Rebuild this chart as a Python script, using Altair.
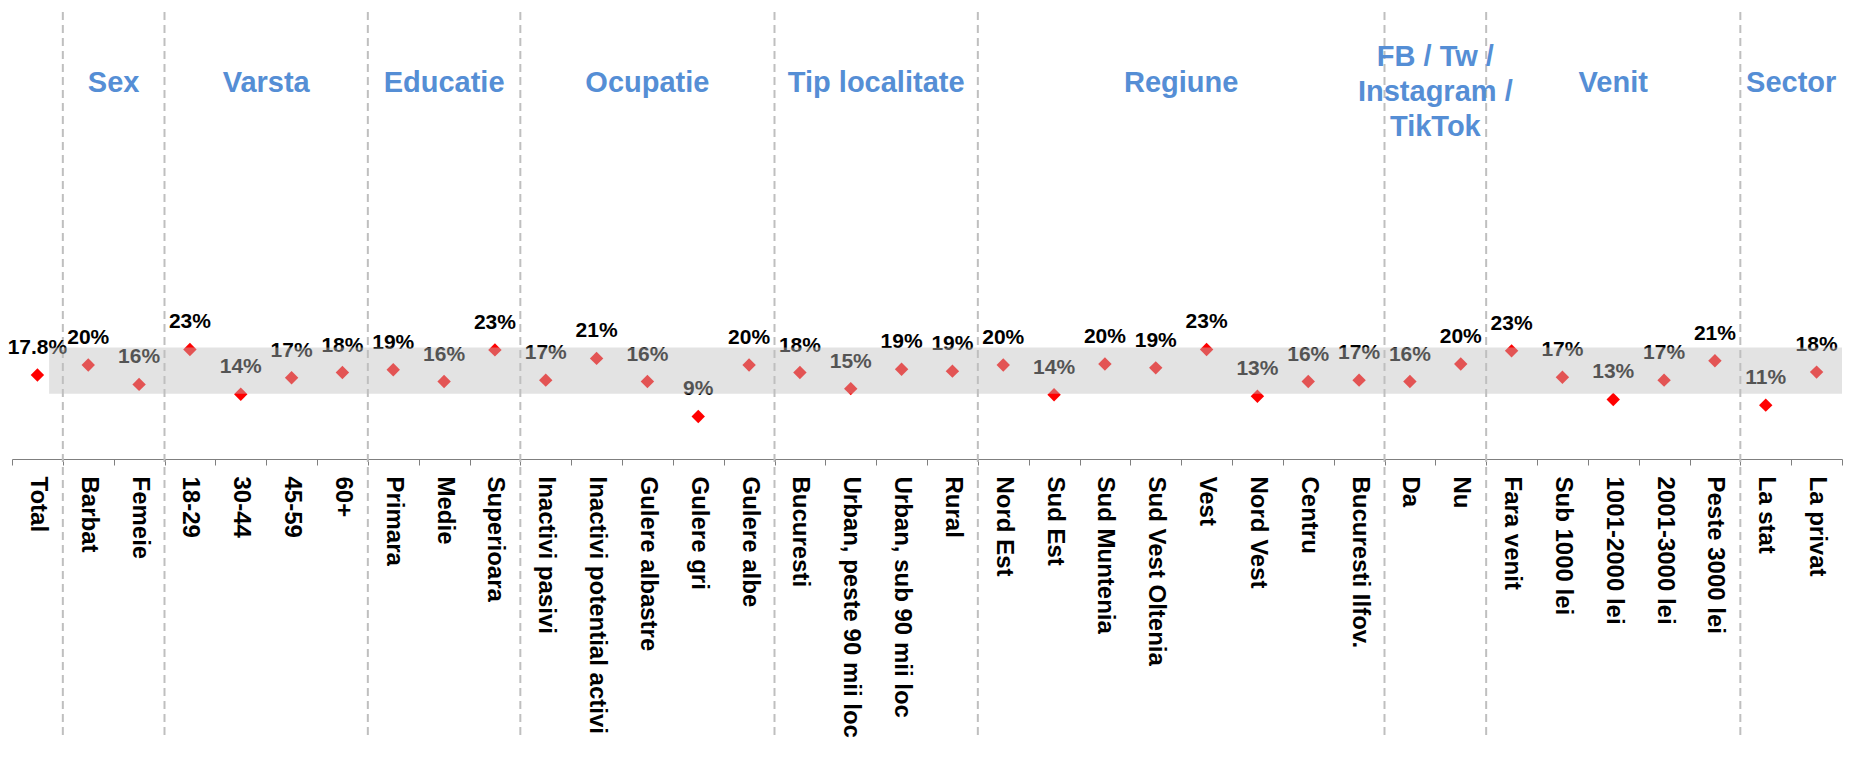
import json
import altair as alt
import pandas as pd

# ---------------- data ----------------
categories = ["Total", "Barbat", "Femeie", "18-29", "30-44", "45-59", "60+",
              "Primara", "Medie", "Superioara",
              "Inactivi pasivi", "Inactivi potential activi", "Gulere albastre", "Gulere gri", "Gulere albe",
              "Bucuresti", "Urban, peste 90 mii loc", "Urban, sub 90 mii loc", "Rural",
              "Nord Est", "Sud Est", "Sud Muntenia", "Sud Vest Oltenia", "Vest", "Nord Vest", "Centru",
              "Bucuresti Ilfov.",
              "Da", "Nu",
              "Fara venit", "Sub 1000 lei", "1001-2000 lei", "2001-3000 lei", "Peste 3000 lei",
              "La stat", "La privat"]
values = [17.8, 19.9, 15.8, 23.2, 13.7, 17.2, 18.3, 18.9, 16.4, 23.1, 16.7, 21.3,
          16.4, 9.0, 19.9, 18.3, 14.9, 19.0, 18.6, 19.9, 13.6, 20.1, 19.3, 23.2,
          13.3, 16.4, 16.7, 16.4, 20.1, 22.9, 17.3, 12.6, 16.7, 20.8, 11.4, 18.4]
groups = ["Sex", "Varsta", "Educatie", "Ocupatie", "Tip localitate", "Regiune",
          "FB / Tw /\nInstagram /\nTikTok", "Venit", "Sector"]
group_sizes = [2, 4, 3, 5, 4, 8, 2, 5, 2]
band_low, band_high = 13.8, 23.6   # confidence band around the total
band_start = 0.73                   # band starts just right of "Total"

# ---------------- tables ----------------
n = len(categories)
pts = pd.DataFrame({
    "x": [i + 0.5 for i in range(n)],
    "cat": categories,
    "v": values,
    "label": [f"{v:.1f}%" if i == 0 else f"{v:.0f}%" for i, v in enumerate(values)],
})

starts, pos = [], 1
for s in group_sizes:
    starts.append(pos)
    pos += s
seps = pd.DataFrame({"x": starts})
titles = pd.DataFrame({
    "x": [st + s / 2 for st, s in zip(starts, group_sizes)],
    "name": groups,
    "multi": ["\n" in g for g in groups],
})
band = pd.DataFrame({"x": [band_start], "x2": [n], "lo": [band_low], "hi": [band_high]})

# ---------------- styling ----------------
FONT = "Liberation Sans"
W, H = 1830, 451
YMAX = 95.5

tick_vals = [i / 2 for i in range(2 * n + 1)]
expr = ("datum.value % 1 == 0 ? '' : " + json.dumps(categories) + "[floor(datum.value)]")
x_axis = alt.Axis(
    values=tick_vals, labelExpr=expr, labelAngle=90, labelAlign="left", labelBaseline="middle",
    labelFont=FONT, labelFontSize=24, labelFontWeight="bold", labelColor="#000000",
    labelPadding=11, labelOverlap=False, labelFlush=False, labelBound=False, labelLimit=0,
    tickSize=6, tickColor="#7F7F7F", tickWidth=1,
    tickOpacity={"condition": {"test": "datum.value % 1 != 0", "value": 0}, "value": 1},
    domainColor="#7F7F7F", domainWidth=1, grid=False, title=None,
)
xs = alt.Scale(domain=[0, n], nice=False, zero=False)
ys = alt.Scale(domain=[0, YMAX], nice=False, zero=True)

def X(field):
    return alt.X(field, type="quantitative", scale=xs, axis=x_axis)

sep_layer = alt.Chart(seps).mark_rule(color="#BFBFBF", strokeWidth=2, strokeDash=[8, 5]).encode(
    x=X("x"), y=alt.value(4), y2=alt.value(732)
)

point_layer = alt.Chart(pts).mark_point(shape="diamond", filled=True, size=180,
                                         color="#FF0000", opacity=1).encode(
    x=X("x"), y=alt.Y("v:Q", scale=ys, axis=None)
)

label_layer = alt.Chart(pts).mark_text(font=FONT, fontSize=21, fontWeight="bold",
                                        color="#000000", baseline="alphabetic", dy=-21).encode(
    x=X("x"), y=alt.Y("v:Q", scale=ys, axis=None), text="label:N"
)

band_layer = alt.Chart(band).mark_rect(color="#C0C0C0", opacity=0.44).encode(
    x=X("x"), x2="x2", y=alt.Y("lo:Q", scale=ys, axis=None), y2="hi"
)

title_single = alt.Chart(titles).transform_filter("!datum.multi").mark_text(
    font=FONT, fontSize=29, fontWeight="bold", color="#558ED5", baseline="middle"
).encode(x=X("x"), y=alt.value(75), text="name:N")

title_multi = alt.Chart(titles).transform_filter("datum.multi").mark_text(
    font=FONT, fontSize=29, fontWeight="bold", color="#558ED5", baseline="middle",
    lineBreak="\n", lineHeight=35
).encode(x=X("x"), y=alt.value(49), text="name:N")

chart = alt.layer(sep_layer, point_layer, label_layer, band_layer, title_single, title_multi).properties(
    width=W, height=H,
    autosize=alt.AutoSizeParams(type="none"),
    padding={"left": 4, "top": 0, "right": 8, "bottom": 290},
).configure(background="white").configure_view(stroke=None, strokeWidth=0)

chart.save("out.html", embed_options={"renderer": "svg", "actions": False})
